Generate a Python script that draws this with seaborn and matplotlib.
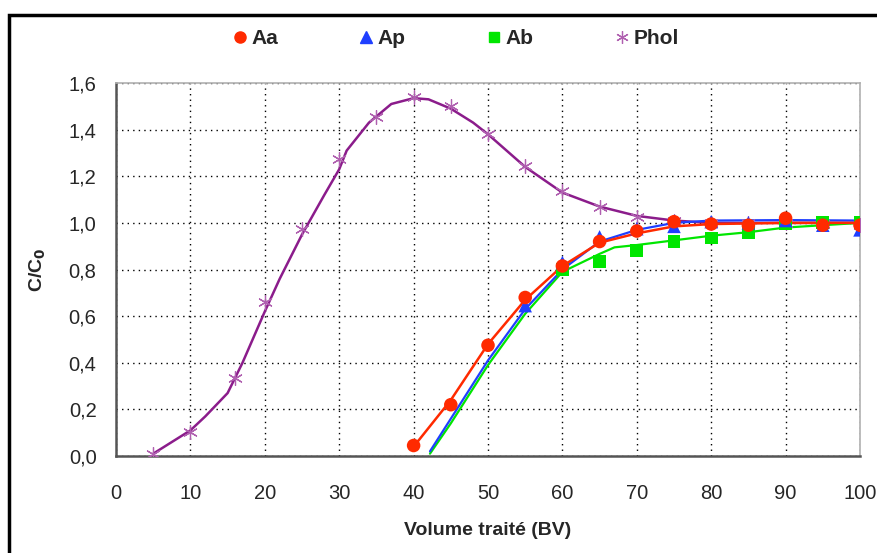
import numpy as np
import pandas as pd
import matplotlib
matplotlib.use("Agg")
import matplotlib.pyplot as plt
import seaborn as sns
from matplotlib.lines import Line2D
from matplotlib.patches import Rectangle
from matplotlib.ticker import FuncFormatter

# measured points
aa_x = [40, 45, 50, 55, 60, 65, 70, 75, 80, 85, 90, 95, 100]
aa_y = [0.045, 0.22, 0.475, 0.68, 0.815, 0.92, 0.965, 1.005, 0.995, 0.99, 1.02, 0.99, 0.99]
ap_x = [55, 60, 65, 70, 75, 80, 85, 90, 95, 100]
ap_y = [0.645, 0.83, 0.94, 0.975, 0.985, 1.005, 1.0, 1.01, 0.99, 0.97]
ab_x = [60, 65, 70, 75, 80, 85, 90, 95, 100]
ab_y = [0.80, 0.835, 0.88, 0.92, 0.935, 0.96, 0.995, 1.0, 1.0]
phol_x = [5, 10, 16, 20, 25, 30, 35, 40, 45, 50, 55, 60, 65, 70, 75, 80, 85, 90, 95, 100]
phol_y = [0.01, 0.105, 0.335, 0.66, 0.975, 1.275, 1.455, 1.54, 1.50, 1.38, 1.245, 1.135, 1.067,
          1.027, 1.01, 1.0, 1.0, 1.0, 0.995, 0.99]

# fitted curves
aa_fit_x = [40, 45, 50, 55, 60, 65, 70, 75, 80, 90, 100]
aa_fit_y = [0.04, 0.24, 0.48, 0.67, 0.815, 0.915, 0.955, 0.985, 0.995, 1.0, 1.0]
ap_fit_x = [42.2, 45, 50, 55, 60, 65, 70, 75, 80, 90, 100]
ap_fit_y = [0.02, 0.16, 0.41, 0.63, 0.80, 0.92, 0.97, 1.0, 1.01, 1.012, 1.01]
ab_fit_x = [42.2, 45, 50, 55, 60, 65, 67, 70, 75, 80, 85, 90, 95, 100]
ab_fit_y = [0.01, 0.14, 0.39, 0.61, 0.79, 0.867, 0.895, 0.905, 0.925, 0.945, 0.96, 0.98, 0.99, 1.0]
phol_fit_x = [5, 10, 12, 15, 17, 20, 22, 25, 28, 30, 31, 34, 37, 40, 42, 45, 48, 50, 55, 60, 65,
              70, 75, 80, 90, 100]
phol_fit_y = [0.01, 0.11, 0.17, 0.27, 0.40, 0.62, 0.76, 0.95, 1.12, 1.23, 1.31, 1.43, 1.51, 1.535,
              1.53, 1.49, 1.43, 1.38, 1.24, 1.13, 1.07, 1.03, 1.01, 1.0, 1.0, 1.0]

red = "#FF2A00"
blue = "#1F3FFF"
green = "#00E600"
purple = "#8B1C8B"
purple_m = "#B060B0"

sns.set_style("white")
plt.rcParams["font.family"] = ["Liberation Sans", "DejaVu Sans"]

fig = plt.figure(figsize=(8.77, 5.53), dpi=100)
ax = fig.add_axes([0.1323, 0.1754, 0.9806 - 0.1323, 0.8499 - 0.1754])

# curves
sns.lineplot(x=phol_fit_x, y=phol_fit_y, color=purple, lw=1.8, sort=False, ax=ax, zorder=2)
sns.lineplot(x=ab_fit_x, y=ab_fit_y, color=green, lw=1.6, sort=False, ax=ax, zorder=3)
sns.lineplot(x=ap_fit_x, y=ap_fit_y, color=blue, lw=1.6, sort=False, ax=ax, zorder=3)
sns.lineplot(x=aa_fit_x, y=aa_fit_y, color=red, lw=1.8, sort=False, ax=ax, zorder=4)

# markers
sns.scatterplot(x=phol_x, y=phol_y, marker=(6, 2, 0), s=100, color=purple_m, linewidth=0.9,
                ax=ax, zorder=3)
sns.scatterplot(x=ab_x, y=ab_y, marker="s", s=85, color=green, edgecolor="none", ax=ax, zorder=5)
sns.scatterplot(x=ap_x, y=ap_y, marker="^", s=95, color=blue, edgecolor="none", ax=ax, zorder=6)
sns.scatterplot(x=aa_x, y=aa_y, marker="o", s=95, color=red, edgecolor="none", ax=ax, zorder=7)

ax.set_xlim(0, 100)
ax.set_ylim(0, 1.6)
ax.set_xticks(np.arange(0, 101, 10))
ax.set_yticks(np.arange(0, 1.61, 0.2))
ax.yaxis.set_major_formatter(FuncFormatter(lambda v, p: f"{v:.1f}".replace(".", ",")))
ax.grid(True, color="black", linestyle=(0, (1, 3)), lw=1.0)
ax.tick_params(axis="both", direction="out", length=6, width=1.2, color="#555555",
               labelsize=14.5, pad=8)
ax.tick_params(axis="x", pad=14)

for side in ["left", "bottom"]:
    ax.spines[side].set_color("#555555")
    ax.spines[side].set_linewidth(1.8)
for side in ["top", "right"]:
    ax.spines[side].set_color("#B0B0B0")
    ax.spines[side].set_linewidth(1.2)

ax.set_xlabel("Volume traité (BV)", fontsize=14, fontweight="bold", labelpad=14)
ax.set_ylabel("C/C$\\mathbf{_0}$", fontsize=14, fontweight="bold", labelpad=15)

handles = [
    Line2D([], [], marker="o", color=red, ls="none", markersize=8),
    Line2D([], [], marker="^", color=blue, ls="none", markersize=8),
    Line2D([], [], marker="s", color=green, ls="none", markersize=7),
    Line2D([], [], marker=(6, 2, 0), color=purple_m, ls="none", markersize=9, mew=0.9),
]
fig.legend(handles, ["Aa", "Ap", "Ab", "Phol"], ncol=4, loc="center",
           bbox_to_anchor=(0.518, 0.93), frameon=False, handletextpad=0.05,
           handlelength=1.0, columnspacing=3.75, prop={"weight": "bold", "size": 15})

fig.add_artist(Rectangle((9 / 877, -0.1), 2, 1 - 15 / 553 + 0.1, transform=fig.transFigure,
                         fill=False, lw=2.5, edgecolor="black"))

fig.savefig("out.png", dpi=100)
